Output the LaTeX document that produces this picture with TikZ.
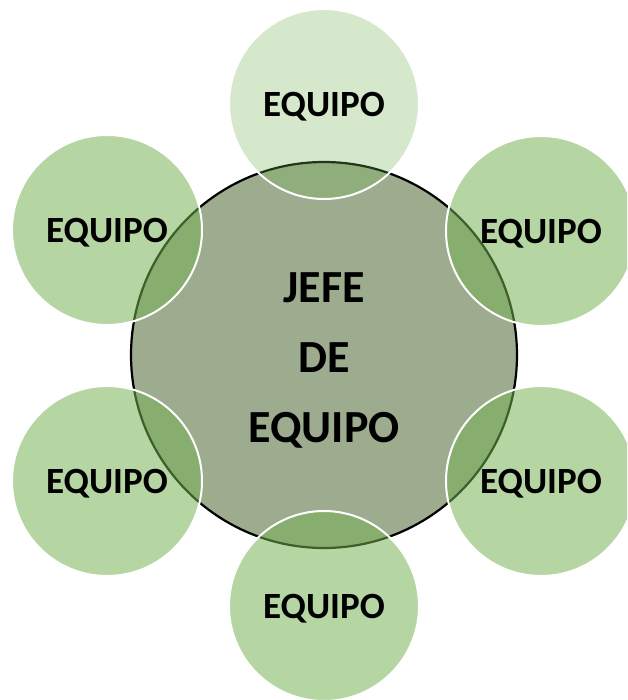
\documentclass[tikz,border=0pt]{standalone}
\usepackage{fontspec}
\setmainfont{Carlito}
\definecolor{hubfill}{RGB}{157,171,142}
\definecolor{teamfill}{RGB}{117,178,83}
\tikzset{
  hub/.style={circle, draw=black, line width=2.2pt, fill=hubfill, minimum size=386pt, inner sep=0pt},
  team/.style={circle, draw=white, line width=2pt, fill=teamfill, fill opacity=0.535, minimum size=190pt, inner sep=0pt},
  teamlight/.style={team, fill opacity=0.3},
  teamlabel/.style={font=\bfseries\fontsize{37}{37}\selectfont, text=black, inner sep=0pt, yshift=-2.5pt},
  hublabel/.style={font=\bfseries\fontsize{46}{70}\selectfont, text=black, align=center, inner sep=0pt}
}
\begin{document}
\begin{tikzpicture}[x=1pt,y=-1pt]
\useasboundingbox (0,0) rectangle (627,700);
\clip (0,0) rectangle (627,700);
\node[hub] (hub) at (324,355) {};
\node[teamlight] (t1) at (324,104) {};
\node[team] (t2) at (541,231) {};
\node[team] (t3) at (541,481) {};
\node[team] (t4) at (324,606) {};
\node[team] (t5) at (107,481) {};
\node[team] (t6) at (107,230) {};
\node[teamlabel] at (t1) {EQUIPO};
\node[teamlabel] at (t2) {EQUIPO};
\node[teamlabel] at (t3) {EQUIPO};
\node[teamlabel] at (t4) {EQUIPO};
\node[teamlabel] at (t5) {EQUIPO};
\node[teamlabel] at (t6) {EQUIPO};
\node[hublabel] at (324,360) {JEFE\\DE\\EQUIPO};
\end{tikzpicture}
\end{document}
